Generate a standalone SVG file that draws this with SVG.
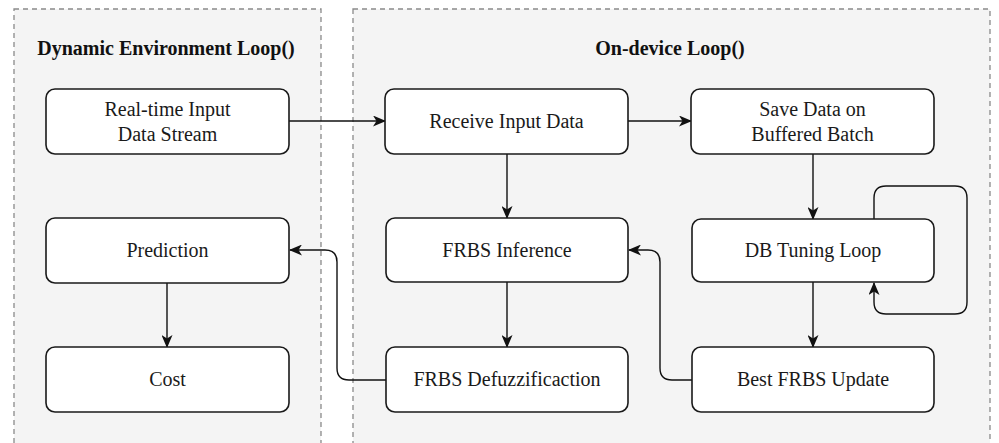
<svg xmlns="http://www.w3.org/2000/svg" width="999" height="443" viewBox="0 0 999 443">
<defs>
<style>
.cont{fill:#f4f4f4;stroke:#8a8a8a;stroke-width:1.3;stroke-dasharray:5,4}
.box{fill:#fff;stroke:#1a1a1a;stroke-width:1.6}
.t{font-family:"Liberation Serif","DejaVu Serif",serif;font-size:20px;fill:#1a1a1a;text-anchor:middle}
.h{font-family:"Liberation Serif","DejaVu Serif",serif;font-size:20px;font-weight:bold;fill:#111;text-anchor:middle}
.c{fill:none;stroke:#111;stroke-width:1.4}
</style>
<marker id="ah" viewBox="0 0 13 11" refX="12" refY="5.5" markerWidth="13" markerHeight="11" markerUnits="userSpaceOnUse" orient="auto">
<path d="M0,0 L13,5.5 L0,11 L3.5,5.5 Z" fill="#111"/>
</marker>
</defs>
<rect width="999" height="443" fill="#fff"/>
<g id="env-loop">
<rect class="cont" x="14" y="9" width="307" height="450"/>
<text class="h" x="166" y="55">Dynamic Environment Loop()</text>
</g>
<g id="device-loop">
<rect class="cont" x="353" y="9" width="637" height="450"/>
<text class="h" x="670" y="55">On-device Loop()</text>
</g>
<g id="connectors">
<path class="c" d="M289,121 H385" marker-end="url(#ah)"/>
<path class="c" d="M628,121 H691" marker-end="url(#ah)"/>
<path class="c" d="M507,154 V218" marker-end="url(#ah)"/>
<path class="c" d="M813,154 V219" marker-end="url(#ah)"/>
<path class="c" d="M507,282 V347" marker-end="url(#ah)"/>
<path class="c" d="M813,282 V347" marker-end="url(#ah)"/>
<path class="c" d="M167,283 V347" marker-end="url(#ah)"/>
<path class="c" d="M386,380 H349 Q337,380 337,368 V262 Q337,250 325,250 H290" marker-end="url(#ah)"/>
<path class="c" d="M692,380 H672 Q660,380 660,368 V262 Q660,250 648,250 H629" marker-end="url(#ah)"/>
<path class="c" d="M874,219 V198 Q874,186 886,186 H955 Q967,186 967,198 V302 Q967,314 955,314 H886 Q874,314 874,302 V283" marker-end="url(#ah)"/>
</g>
<g id="realtime">
<rect class="box" x="46" y="89" width="243" height="65" rx="9"/>
<text class="t" x="167.5" y="116">Real-time Input</text>
<text class="t" x="167.5" y="141">Data Stream</text>
</g>
<g id="receive">
<rect class="box" x="385" y="89" width="243" height="65" rx="9"/>
<text class="t" x="506.5" y="128">Receive Input Data</text>
</g>
<g id="save">
<rect class="box" x="691" y="89" width="243" height="65" rx="9"/>
<text class="t" x="812.5" y="116">Save Data on</text>
<text class="t" x="812.5" y="141">Buffered Batch</text>
</g>
<g id="prediction">
<rect class="box" x="46" y="218" width="243" height="65" rx="9"/>
<text class="t" x="167.5" y="257">Prediction</text>
</g>
<g id="inference">
<rect class="box" x="386" y="218" width="242" height="64" rx="9"/>
<text class="t" x="507" y="257">FRBS Inference</text>
</g>
<g id="dbtuning">
<rect class="box" x="692" y="219" width="242" height="63" rx="9"/>
<text class="t" x="813" y="257">DB Tuning Loop</text>
</g>
<g id="cost">
<rect class="box" x="46" y="347" width="243" height="65" rx="9"/>
<text class="t" x="167.5" y="386">Cost</text>
</g>
<g id="defuzz">
<rect class="box" x="386" y="347" width="242" height="65" rx="9"/>
<text class="t" x="507" y="386">FRBS Defuzzificaction</text>
</g>
<g id="bestupdate">
<rect class="box" x="692" y="347" width="242" height="65" rx="9"/>
<text class="t" x="813" y="386">Best FRBS Update</text>
</g>
</svg>
